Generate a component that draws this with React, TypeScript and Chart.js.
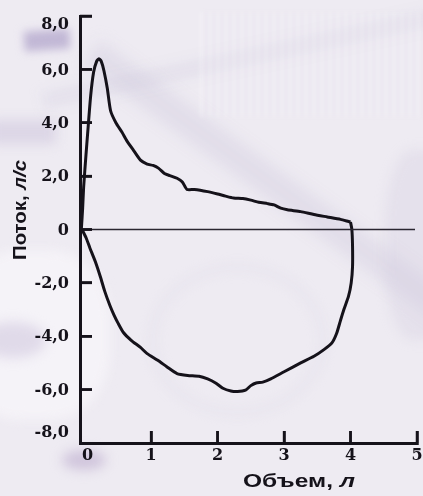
import React, { useEffect, useRef } from "react";
import { Chart, registerables } from "chart.js";

Chart.register(...registerables);

// Expiratory limb of the flow-volume loop (volume, l; flow, l/s)
const expVolume = [
  -0.05, -0.03, -0.015, 0.02, 0.045, 0.09, 0.135, 0.18, 0.215, 0.25, 0.29, 0.34,
  0.39, 0.47, 0.56, 0.64, 0.74, 0.84, 0.94, 1.03, 1.11, 1.2, 1.28, 1.39, 1.47,
  1.54, 1.65, 1.85, 2.0, 2.12, 2.24, 2.38, 2.5, 2.62, 2.75, 2.85, 2.95, 3.05,
  3.25, 3.45, 3.65, 3.85, 3.97, 4.0,
];
const expFlow = [
  0, 0.8, 1.6, 2.8, 3.6, 5.0, 5.9, 6.3, 6.4, 6.3, 5.95, 5.3, 4.45, 4.0, 3.65,
  3.3, 2.95, 2.6, 2.45, 2.4, 2.3, 2.1, 2.02, 1.92, 1.78, 1.5, 1.5, 1.42, 1.33,
  1.25, 1.18, 1.16, 1.1, 1.02, 0.97, 0.92, 0.8, 0.74, 0.67, 0.56, 0.47, 0.38,
  0.3, 0.28,
];

// Inspiratory limb, from end of expiration back to the origin
const inspVolume = [
  4.0, 4.02, 4.03, 4.03, 4.01, 3.97, 3.9, 3.85, 3.79, 3.72, 3.6, 3.45, 3.25, 3.0,
  2.8, 2.68, 2.58, 2.5, 2.42, 2.3, 2.2, 2.08, 1.97, 1.85, 1.72, 1.55, 1.39, 1.24,
  1.1, 0.94, 0.84, 0.7, 0.58, 0.5, 0.44, 0.38, 0.3, 0.24, 0.16, 0.08, 0.02, -0.04,
];
const inspFlow = [
  0.28, 0, -0.6, -1.4, -2.0, -2.5, -3.0, -3.4, -3.9, -4.25, -4.5, -4.75, -5.0,
  -5.33, -5.6, -5.72, -5.75, -5.85, -6.02, -6.07, -6.05, -5.95, -5.75, -5.6,
  -5.5, -5.47, -5.4, -5.15, -4.9, -4.65, -4.42, -4.15, -3.85, -3.5, -3.2, -2.85,
  -2.3, -1.8, -1.2, -0.7, -0.3, 0,
];

const xTickValues = [0, 1, 2, 3, 4, 5];
const xTickLabels = ["0", "1", "2", "3", "4", "5"];
const yTickValues = [-8, -6, -4, -2, 0, 2, 4, 6, 8];
const yTickLabels = ["-8,0", "-6,0", "-4,0", "-2,0", "0", "2,0", "4,0", "6,0", "8,0"];

const xTitleMain = "Объем, ";
const xTitleUnit = "л";
const yTitleMain = "Поток, ";
const yTitleUnit = "л/с";

const INK = "#15121a";
const SERIF_BOLD = "bold 16px 'DejaVu Serif'";
const SANS_BOLD = "bold 18px 'Liberation Sans'";
const SANS_BOLD_ITALIC = "italic bold 18px 'Liberation Sans'";
const TICK_LEN = 12;
const TICK_W = 2.5;

// Draws a two-part title (plain + italic unit) fitted to a given width.
function drawTitle(
  ctx: CanvasRenderingContext2D,
  main: string,
  unit: string,
  width: number
) {
  ctx.font = SANS_BOLD;
  const w1 = ctx.measureText(main).width;
  ctx.font = SANS_BOLD_ITALIC;
  const w2 = ctx.measureText(unit).width;
  const sx = width / (w1 + w2);
  ctx.scale(sx, 1);
  ctx.textBaseline = "middle";
  ctx.textAlign = "left";
  ctx.fillStyle = INK;
  ctx.font = SANS_BOLD;
  ctx.fillText(main, 0, 0);
  ctx.font = SANS_BOLD_ITALIC;
  ctx.fillText(unit, w1, 0);
}

const axisDecor = {
  id: "axisDecor",
  afterDraw(chart: any) {
    const { ctx, chartArea, scales } = chart;
    const xs = scales.x;
    const ys = scales.y;

    // inward tick marks
    ctx.save();
    ctx.fillStyle = INK;
    xTickValues.forEach((v) => {
      const px = xs.getPixelForValue(v);
      if (v !== 0) ctx.fillRect(px - TICK_W / 2, chartArea.bottom - TICK_LEN, TICK_W, TICK_LEN);
    });
    yTickValues.forEach((v) => {
      const py = ys.getPixelForValue(v);
      if (v !== -8) ctx.fillRect(chartArea.left, py - TICK_W / 2, TICK_LEN, TICK_W);
    });
    ctx.restore();

    // tick labels
    ctx.save();
    ctx.fillStyle = INK;
    ctx.font = SERIF_BOLD;
    ctx.textBaseline = "middle";
    ctx.textAlign = "center";
    xTickValues.forEach((v, i) => {
      const px = xs.getPixelForValue(v);
      ctx.fillText(xTickLabels[i], px + (v === 0 ? 3 : 0), chartArea.bottom + 13);
    });
    ctx.textAlign = "right";
    yTickValues.forEach((v, i) => {
      let ly = ys.getPixelForValue(v);
      if (v === 8) ly += 8;
      if (v === -8) ly -= 11;
      ctx.fillText(yTickLabels[i], chartArea.left - 11, ly + 1);
    });
    ctx.restore();

    // axis titles
    ctx.save();
    ctx.translate(243, 482);
    drawTitle(ctx, xTitleMain, xTitleUnit, 112);
    ctx.restore();

    ctx.save();
    ctx.translate(21, 260);
    ctx.rotate(-Math.PI / 2);
    drawTitle(ctx, yTitleMain, yTitleUnit, 100);
    ctx.restore();
  },
};

function toPoints(vx: number[], vy: number[]) {
  return vx.map((x, i) => ({ x, y: vy[i] }));
}

function FlowVolumeChart() {
  const canvasRef = useRef<HTMLCanvasElement | null>(null);

  useEffect(() => {
    const canvas = canvasRef.current;
    if (!canvas) return;
    const chart = new Chart(canvas, {
      type: "scatter",
      data: {
        datasets: [
          {
            label: "zero",
            data: [
              { x: -0.07, y: 0 },
              { x: 4.97, y: 0 },
            ],
            showLine: true,
            borderColor: "#2a2630",
            borderWidth: 1.6,
            pointRadius: 0,
          },
          {
            label: "expiration",
            data: toPoints(expVolume, expFlow),
            showLine: true,
            borderColor: INK,
            borderWidth: 3,
            pointRadius: 0,
            tension: 0.2,
          },
          {
            label: "inspiration",
            data: toPoints(inspVolume, inspFlow),
            showLine: true,
            borderColor: INK,
            borderWidth: 3,
            pointRadius: 0,
            tension: 0.2,
          },
        ],
      },
      options: {
        animation: false,
        responsive: false,
        maintainAspectRatio: false,
        devicePixelRatio: 1,
        layout: { padding: { top: 16, right: 6, left: 0, bottom: 0 } },
        plugins: {
          legend: { display: false },
          tooltip: { enabled: false },
          title: { display: false },
        },
        scales: {
          x: {
            type: "linear",
            min: -0.07,
            max: 5,
            afterBuildTicks: (s: any) => {
              s.ticks = xTickValues.map((v) => ({ value: v }));
            },
            afterFit: (s: any) => {
              s.height = 53;
            },
            grid: {
              display: true,
              drawOnChartArea: false,
              drawTicks: true,
              tickLength: -TICK_LEN,
              tickWidth: TICK_W,
              tickColor: (c: any) => (c.tick && c.tick.value === 0 ? "rgba(0,0,0,0)" : INK),
              color: "rgba(0,0,0,0)",
            },
            border: { display: true, color: INK, width: 3 },
            ticks: { display: false },
          },
          y: {
            type: "linear",
            min: -8,
            max: 8,
            afterBuildTicks: (s: any) => {
              s.ticks = yTickValues.map((v) => ({ value: v }));
            },
            afterFit: (s: any) => {
              s.width = 80;
            },
            grid: {
              display: true,
              drawOnChartArea: false,
              drawTicks: true,
              tickLength: -TICK_LEN,
              tickWidth: TICK_W,
              tickColor: (c: any) => (c.tick && c.tick.value === -8 ? "rgba(0,0,0,0)" : INK),
              color: "rgba(0,0,0,0)",
            },
            border: { display: true, color: INK, width: 3 },
            ticks: { display: false },
          },
        },
      },
      plugins: [axisDecor],
    });
    return () => chart.destroy();
  }, []);

  return (
    <canvas
      ref={canvasRef}
      width={423}
      height={496}
      style={{ position: "absolute", left: 0, top: 0, width: 423, height: 496, zIndex: 2 }}
    />
  );
}

function Backdrop() {
  const blob = (style: React.CSSProperties) => (
    <div style={{ position: "absolute", filter: "blur(6px)", ...style }} />
  );
  return (
    <div style={{ position: "absolute", inset: 0, overflow: "hidden", background: "#eeebf2", zIndex: 1 }}>
      {blob({ left: 24, top: 30, width: 46, height: 20, background: "#c2b8d6", transform: "rotate(-4deg)", filter: "blur(4px)" })}
      {blob({ left: -10, top: 120, width: 66, height: 24, background: "#dcd6e6" })}
      {blob({ left: 100, top: 40, width: 480, height: 30, background: "rgba(195,188,212,0.28)", transform: "rotate(36deg)", transformOrigin: "0 0", filter: "blur(8px)" })}
      {blob({ left: 40, top: 92, width: 420, height: 18, background: "rgba(205,199,220,0.25)", transform: "rotate(-12deg)", transformOrigin: "0 0" })}
      {blob({ left: 200, top: 12, width: 223, height: 105, background: "repeating-linear-gradient(90deg, rgba(255,255,255,0.3) 0 4px, rgba(222,216,232,0.3) 4px 8px)", filter: "blur(2px)" })}
      {blob({ left: -40, top: 250, width: 150, height: 170, background: "rgba(250,249,252,0.6)", borderRadius: "40%" })}
      {blob({ left: -20, top: 322, width: 66, height: 36, background: "#e0dae9", borderRadius: "50%" })}
      {blob({ left: 62, top: 450, width: 44, height: 20, background: "#d0c5dc", borderRadius: "50%" })}
      {blob({ left: 385, top: 150, width: 70, height: 190, background: "rgba(210,202,222,0.3)", borderRadius: "40%" })}
      {blob({ left: 150, top: 265, width: 165, height: 140, border: "5px solid rgba(220,214,230,0.45)", borderRadius: "50%" })}
    </div>
  );
}

export default function App() {
  return (
    <div style={{ position: "fixed", left: 0, top: 0, width: 423, height: 496, overflow: "hidden" }}>
      <Backdrop />
      <FlowVolumeChart />
    </div>
  );
}
